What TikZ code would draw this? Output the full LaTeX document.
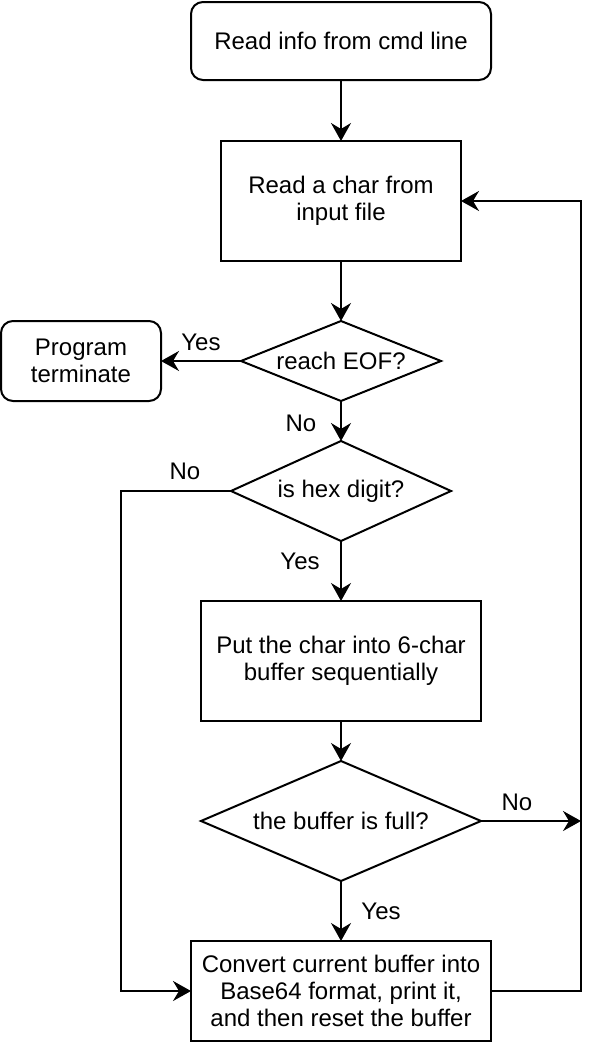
\documentclass[tikz,border=0pt]{standalone}
\usepackage{fontspec}
\setmainfont{Liberation Sans}
\usetikzlibrary{shapes.geometric,arrows.meta}
\begin{document}
\begin{tikzpicture}[x=0.5pt,y=-0.5pt,
  every node/.style={font=\fontsize{12}{13.5}\selectfont, align=center, inner sep=0pt, outer sep=0pt},
  box/.style={draw, line width=1pt, rectangle},
  rbox/.style={draw, line width=1pt, rectangle, rounded corners=6pt},
  dec/.style={draw, line width=1pt, diamond},
  arr/.style={line width=1pt, -{Stealth[length=9pt,width=10pt,inset=3pt]}},
  lbl/.style={font=\fontsize{12}{13.5}\selectfont}]
\useasboundingbox (0,0) rectangle (598,1044);
\node[rbox, minimum width=150pt, minimum height=39pt] (cmd) at (341,41) {Read info from cmd line};
\node[box, minimum width=120pt, minimum height=60pt] (readc) at (341,201) {Read a char from\\input file};
\node[dec, aspect=2.5, minimum width=100pt, minimum height=40pt] (eof) at (341,361) {reach EOF?};
\node[rbox, minimum width=80pt, minimum height=40pt] (term) at (81,361) {Program\\terminate};
\node[dec, aspect=2.2, minimum width=110pt, minimum height=50pt] (hex) at (341,491) {is hex digit?};
\node[box, minimum width=140pt, minimum height=60pt] (put) at (341,661) {Put the char into 6-char\\buffer sequentially};
\node[dec, aspect=2.333, minimum width=140pt, minimum height=60pt] (full) at (341,821) {the buffer is full?};
\node[box, minimum width=150pt, minimum height=50pt] (conv) at (341,991) {Convert current buffer into\\Base64 format, print it,\\and then reset the buffer};
\coordinate (j) at (581,821);
\draw[arr] (cmd) -- (readc);
\draw[arr] (readc) -- (eof);
\draw[arr] (eof) -- (term);
\draw[arr] (eof) -- (hex);
\draw[arr] (hex) -- (put);
\draw[arr] (put) -- (full);
\draw[arr] (full) -- (conv);
\draw[arr] (full.east) -- (j);
\draw[arr] (hex.west) -- (121,491) -- (121,991) -- (conv.west);
\draw[arr] (conv.east) -- (581,991) -- (581,201) -- (readc.east);
\node[lbl] (l1) at (201,342) {Yes};
\node[lbl] (l2) at (301,423) {No};
\node[lbl] (l3) at (185,471) {No};
\node[lbl] (l4) at (300,561) {Yes};
\node[lbl] (l5) at (517,802) {No};
\node[lbl] (l6) at (381,911) {Yes};
\end{tikzpicture}
\end{document}
